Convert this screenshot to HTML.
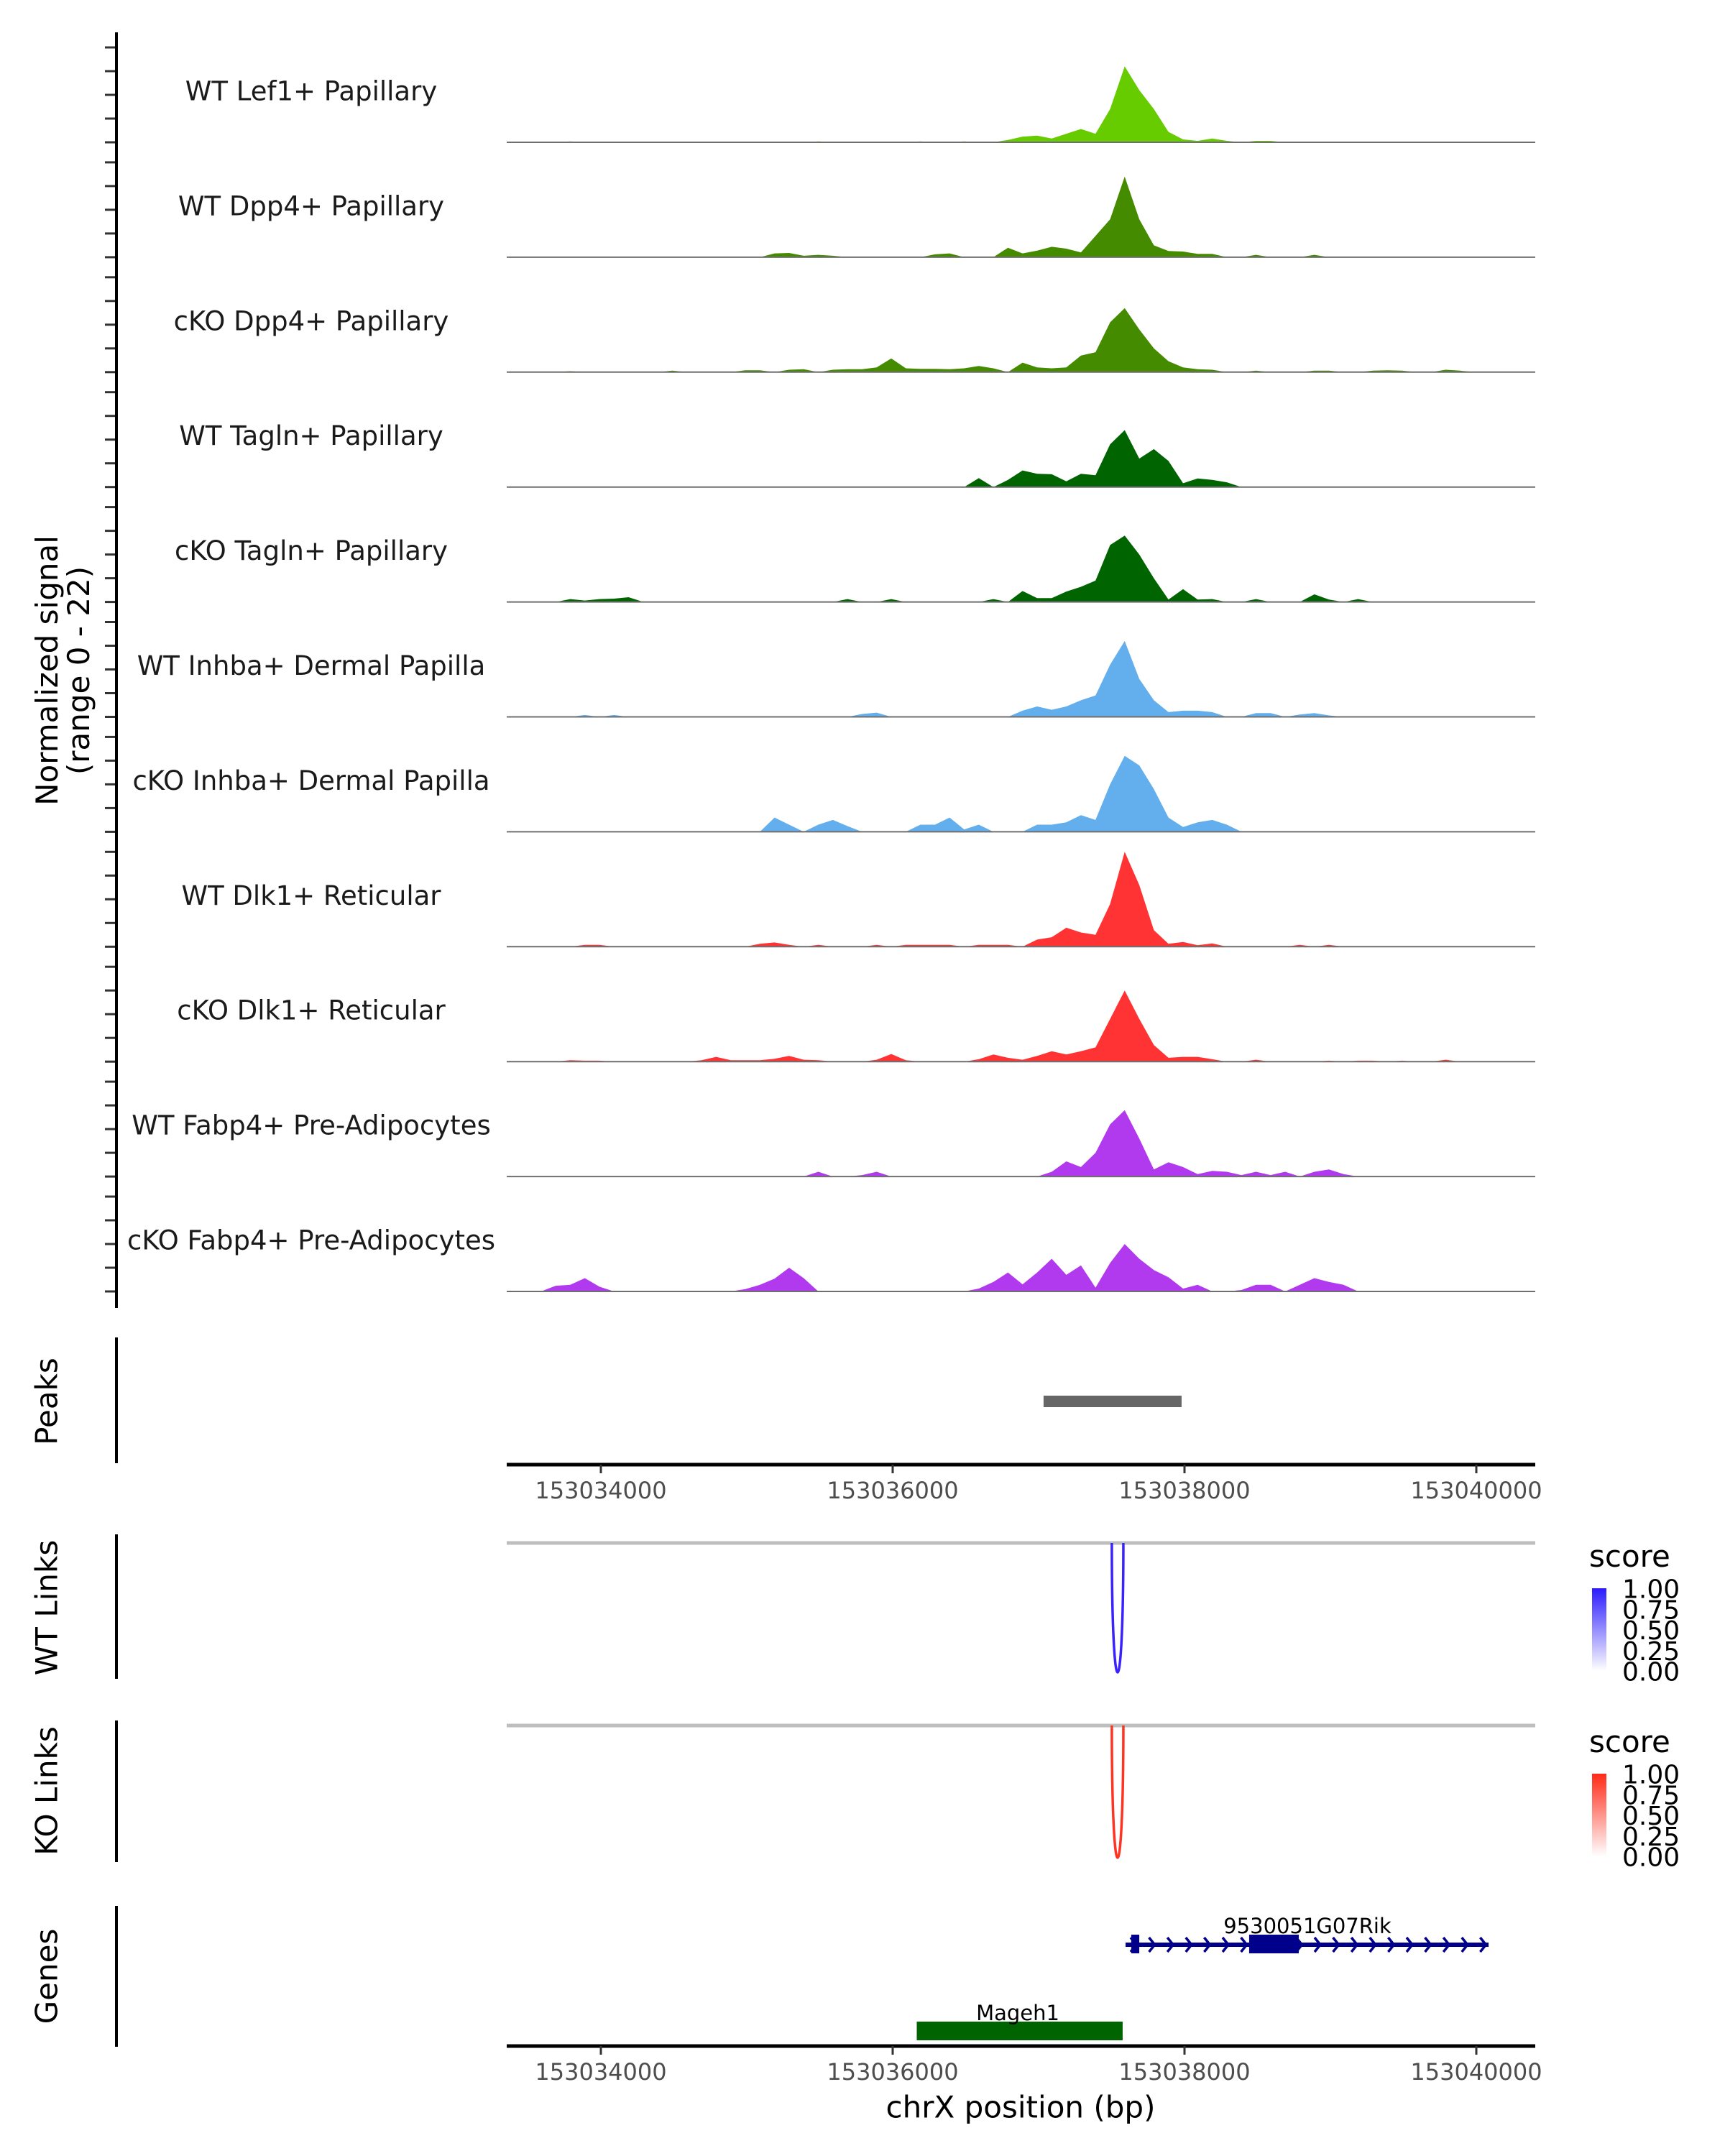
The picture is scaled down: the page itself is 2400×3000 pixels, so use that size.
<!DOCTYPE html>
<html><head><meta charset="utf-8">
<style>
html,body{margin:0;padding:0;background:#fff;}
svg{display:block;font-family:"DejaVu Sans","Liberation Sans",sans-serif;}
</style></head>
<body>
<svg id="chart" width="2400" height="3000" viewBox="0 0 2400 3000" xmlns="http://www.w3.org/2000/svg">
<defs>
<linearGradient id="gBlue" x1="0" y1="0" x2="0" y2="1"><stop offset="0" stop-color="#2b1bff"/><stop offset="1" stop-color="#ffffff"/></linearGradient>
<linearGradient id="gRed" x1="0" y1="0" x2="0" y2="1"><stop offset="0" stop-color="#ff2a17"/><stop offset="1" stop-color="#ffffff"/></linearGradient>
</defs>
<g id="tracks"></g>
<g id="axes"></g>
</svg>
<script>
// ---- data ----
const trackNames = ["WT Lef1+ Papillary","WT Dpp4+ Papillary","cKO Dpp4+ Papillary","WT Tagln+ Papillary","cKO Tagln+ Papillary","WT Inhba+ Dermal Papilla","cKO Inhba+ Dermal Papilla","WT Dlk1+ Reticular","cKO Dlk1+ Reticular","WT Fabp4+ Pre-Adipocytes","cKO Fabp4+ Pre-Adipocytes"];
const trackColors = ["#66cc00","#458b00","#458b00","#006400","#006400","#63aeec","#63aeec","#ff3333","#ff3333","#b23aee","#b23aee"];
const binStartBp = 153033440;
const binSizeBp = 100;
const binCount = 70;
// [bin index, normalized signal]
const sigLef1WT = [[3,0.2],[20,0.2],[27,0.2],[30,0.2],[33,0.5],[34,1.2],[35,1.4],[36,0.8],[37,1.8],[38,2.8],[39,1.8],[40,7],[41,16],[42,11],[43,7],[44,2.2],[45,0.6],[46,0.3],[47,0.8],[48,0.3],[50,0.3],[51,0.3],[56,0.1],[61,0.1],[65,0.1]];
const sigDpp4WT = [[17,0.8],[18,0.9],[19,0.3],[20,0.5],[21,0.3],[28,0.6],[29,0.8],[33,2],[34,0.8],[35,1.4],[36,2.2],[37,1.8],[38,1],[39,4.5],[40,8],[41,17],[42,8],[43,2.5],[44,1.3],[45,1.2],[46,0.7],[47,0.7],[50,0.5],[54,0.5]];
const sigDpp4KO = [[3,0.2],[10,0.3],[15,0.4],[16,0.4],[18,0.5],[19,0.6],[21,0.5],[22,0.6],[23,0.6],[24,1],[25,2.9],[26,0.8],[27,0.7],[28,0.7],[29,0.6],[30,0.8],[31,1.3],[32,0.8],[34,2],[35,1],[36,0.8],[37,1],[38,3.5],[39,4.2],[40,10.5],[41,13.5],[42,9],[43,5],[44,2.3],[45,1],[46,0.6],[47,0.5],[50,0.3],[54,0.3],[55,0.3],[58,0.3],[59,0.4],[60,0.3],[63,0.5],[64,0.3]];
const sigTaglnWT = [[31,1.9],[33,1.5],[34,3.5],[35,2.8],[36,2.7],[37,1.2],[38,2.8],[39,2.5],[40,9],[41,12],[42,6],[43,8],[44,5.5],[45,0.8],[46,1.8],[47,1.5],[48,1]];
const sigTaglnKO = [[3,0.6],[4,0.3],[5,0.6],[6,0.7],[7,1],[22,0.6],[25,0.6],[32,0.6],[34,2.3],[35,0.8],[36,0.8],[37,2.2],[38,3.2],[39,4.5],[40,12],[41,14],[42,10],[43,5],[44,0.5],[45,2.7],[46,0.5],[47,0.6],[50,0.6],[54,1.6],[55,0.5],[57,0.6]];
const sigInhbaWT = [[4,0.4],[6,0.4],[23,0.6],[24,0.9],[34,1.3],[35,2.2],[36,1.5],[37,2.2],[38,3.5],[39,4.5],[40,11],[41,16],[42,8],[43,3.5],[44,1],[45,1.3],[46,1.3],[47,1],[50,0.8],[51,0.8],[53,0.5],[54,0.8],[55,0.3]];
const sigInhbaKO = [[17,3],[18,1.5],[20,1.5],[21,2.5],[22,1.2],[27,1.5],[28,1.5],[29,3],[30,0.5],[31,1.5],[35,1.5],[36,1.5],[37,2],[38,3.5],[39,2.5],[40,10],[41,16],[42,14],[43,9],[44,3],[45,1],[46,2],[47,2.5],[48,1.5]];
const sigDlk1WT = [[4,0.4],[5,0.4],[16,0.6],[17,0.9],[18,0.4],[20,0.4],[24,0.4],[26,0.4],[27,0.4],[28,0.4],[29,0.4],[31,0.4],[32,0.4],[33,0.4],[35,1.5],[36,2],[37,4],[38,3],[39,2.5],[40,9],[41,20],[42,13],[43,3.5],[44,0.6],[45,1],[46,0.3],[47,0.7],[53,0.4],[55,0.4]];
const sigDlk1KO = [[3,0.3],[4,0.2],[5,0.2],[12,0.3],[13,1],[14,0.3],[15,0.3],[16,0.3],[17,0.6],[18,1.2],[19,0.4],[20,0.3],[24,0.4],[25,1.6],[26,0.3],[31,0.5],[32,1.5],[33,0.8],[34,0.4],[35,1.2],[36,2.2],[37,1.5],[38,2.2],[39,3],[40,9],[41,15],[42,9],[43,3.5],[44,0.8],[45,1],[46,1],[47,0.5],[50,0.4],[55,0.2],[57,0.2],[58,0.2],[60,0.2],[63,0.4]];
const sigFabp4WT = [[20,1],[23,0.3],[24,1],[36,1],[37,3.2],[38,2],[39,5],[40,11],[41,14],[42,8],[43,1.5],[44,3],[45,2],[46,0.5],[47,1.2],[48,1],[49,0.3],[50,1],[51,0.3],[52,1],[54,1],[55,1.5],[56,0.5]];
const sigFabp4KO = [[2,1.2],[3,1.4],[4,2.8],[5,1],[15,0.5],[16,1.4],[17,2.7],[18,5],[19,2.8],[31,0.6],[32,2],[33,4],[34,1.5],[35,4],[36,6.9],[37,3.5],[38,5.5],[39,0.8],[40,6],[41,10],[42,6.9],[43,4.5],[44,3],[45,0.6],[46,1.4],[49,0.3],[50,1.4],[51,1.4],[53,1.4],[54,2.8],[55,2],[56,1.4]];
const trackSignals = [sigLef1WT,sigDpp4WT,sigDpp4KO,sigTaglnWT,sigTaglnKO,sigInhbaWT,sigInhbaKO,sigDlk1WT,sigDlk1KO,sigFabp4WT,sigFabp4KO];
const xTicks = [153034000,153036000,153038000,153040000];
const xTickLabels = ["153034000","153036000","153038000","153040000"];
const peakRegions = [[153037034,153037980]];
const wtLinks = [[153037502,153037581,1.0]];
const koLinks = [[153037502,153037581,1.0]];
const legendTicks = ["1.00","0.75","0.50","0.25","0.00"];
const geneRik = {name:"9530051G07Rik", start:153037596, end:153040084, exons:[[153037635,153037690],[153038443,153038783]]};
const geneMageh1 = {name:"Mageh1", start:153036165, end:153037576};

// ---- scales ----
const NS="http://www.w3.org/2000/svg";
const plotL=705, plotR=2136;
function xScale(bp){return 836 + (bp-153034000)*0.203;}
const trackTop0=198, trackStep=159.9, unitPx=6.6, yMax=22;
function yScale(v,base){return base - Math.min(v,yMax)*unitPx;}
function el(tag,attrs,parent){const e=document.createElementNS(NS,tag);for(const k in attrs)e.setAttribute(k,attrs[k]);parent.appendChild(e);return e;}
const tracksG=document.getElementById('tracks');
const axesG=document.getElementById('axes');

// ---- signal tracks ----
trackSignals.forEach((sig,t)=>{
  const base=trackTop0+trackStep*t;
  const dense=new Array(binCount).fill(0);
  sig.forEach(p=>{dense[p[0]]=p[1];});
  let pts=[[plotL,base]];
  for(let i=0;i<binCount;i++){
    const cx=xScale(binStartBp+binSizeBp*i+binSizeBp/2);
    if(cx<plotL||cx>plotR) continue;
    pts.push([cx,yScale(dense[i],base)]);
  }
  pts.push([plotR,base]);
  const area=el('polygon',{points:pts.map(p=>p[0].toFixed(1)+','+p[1].toFixed(1)).join(' '),fill:trackColors[t]},tracksG);
  
  
  const bl=el('line',{x1:plotL,x2:plotR,y1:base,y2:base,stroke:'#6f6f6f','stroke-width':2},tracksG);
  
  
  const lab=el('text',{x:433,y:base-71,'font-size':37,fill:'#1a1a1a','text-anchor':'middle','dominant-baseline':'central'},tracksG);
  lab.textContent=trackNames[t];
  
  
  for(let k=0;k<5;k++){
    const ty=base-33*k;
    const tk=el('line',{x1:146,x2:162,y1:ty,y2:ty,stroke:'#333','stroke-width':3},axesG);
    
    
  }
});
// left y axis
const yAx=el('line',{x1:162,x2:162,y1:45,y2:1820,stroke:'#000','stroke-width':4},axesG);


const yt=el('text',{transform:'translate(80,933) rotate(-90)','font-size':42,'text-anchor':'middle',fill:'#000'},axesG);


yt.innerHTML='<tspan x="0" dy="0">Normalized signal</tspan><tspan x="0" dy="44">(range 0 - 22)</tspan>';

// ---- panel axes & labels ----
function panel(name,label,y1,y2,ly){
  const a=el('line',{x1:162,x2:162,y1:y1,y2:y2,stroke:'#000','stroke-width':4},axesG);
  
  
  const t=el('text',{transform:'translate(65,'+ly+') rotate(-90)','font-size':42,'text-anchor':'middle','dominant-baseline':'central',fill:'#000'},axesG);
  t.textContent=label;
  
  
}
panel('peaks','Peaks',1861,2036,1950);
panel('wt-links','WT Links',2135,2336,2237);
panel('ko-links','KO Links',2394,2591,2492);
panel('genes','Genes',2652,2848,2750);

// peaks
peakRegions.forEach(p=>{
  const r=el('rect',{x:xScale(p[0]),y:1942,width:xScale(p[1])-xScale(p[0]),height:16,fill:'#666666'},axesG);
  
  
});

// x axes
function xAxis(y,name){
  const l=el('line',{x1:plotL,x2:plotR,y1:y,y2:y,stroke:'#000','stroke-width':5},axesG);
  
  
  xTicks.forEach((v,i)=>{
    const tk=el('line',{x1:xScale(v),x2:xScale(v),y1:y,y2:y+12,stroke:'#333','stroke-width':3},axesG);
    
    
    const tl=el('text',{x:xScale(v),y:y+36,'font-size':32,'text-anchor':'middle','dominant-baseline':'central',fill:'#4d4d4d'},axesG);
    tl.textContent=xTickLabels[i];
    
    
  });
}
xAxis(2038,'peaks-x-axis');
xAxis(2847,'genes-x-axis');
const xt=el('text',{x:1420,y:2932,'font-size':42,'text-anchor':'middle','dominant-baseline':'central',fill:'#000'},axesG);
xt.textContent='chrX position (bp)';



// links
function links(arr,lineY,bottomY,color,grad,legY,name){
  const g=el('line',{x1:plotL,x2:plotR,y1:lineY,y2:lineY,stroke:'#bebebe','stroke-width':5},axesG);
  
  
  arr.forEach(lk=>{
    const xa=xScale(lk[0]),xb=xScale(lk[1]);
    const depth=(bottomY-lineY)*lk[2];
    const cy=lineY+depth/0.75;
    const p=el('path',{d:'M'+xa+','+lineY+' C'+xa+','+cy+' '+xb+','+cy+' '+xb+','+lineY,fill:'none',stroke:color,'stroke-width':3.5},axesG);
    
    
  });
  const s=el('text',{x:2211,y:legY,'font-size':42,fill:'#000'},axesG);
  s.textContent='score';
  
  
  const barTop=legY+30, barH=115;
  const cb=el('rect',{x:2215,y:barTop,width:20,height:barH,fill:'url(#'+grad+')'},axesG);
  
  
  legendTicks.forEach((t,i)=>{
    const ty=barTop+barH*i/4;
    const tx=el('text',{x:2257,y:ty+2,'font-size':36,'dominant-baseline':'central',fill:'#000'},axesG);
    tx.textContent=t;
    
    
  });
}
links(wtLinks,2147,2327,'#3a22ff','gBlue',2180,'wt-links');
links(koLinks,2401,2585,'#ff3322','gRed',2438,'ko-links');

// genes
(function(){
  const y=2706;
  const l=el('line',{x1:xScale(geneRik.start),x2:xScale(geneRik.end),y1:y,y2:y,stroke:'#00008b','stroke-width':6},axesG);
  
  
  for(let x=xScale(geneRik.start)+12;x<=xScale(geneRik.end)+1;x+=25.6){
    const c=el('polyline',{points:(x-5)+','+(y-10)+' '+(x+3)+','+y+' '+(x-5)+','+(y+10),fill:'none',stroke:'#00008b','stroke-width':3.5},axesG);
    
    
  }
  geneRik.exons.forEach(e=>{
    const r=el('rect',{x:xScale(e[0]),y:2692,width:xScale(e[1])-xScale(e[0]),height:26,fill:'#00008b'},axesG);
    
    
  });
  const t=el('text',{x:1819,y:2690,'font-size':29,'text-anchor':'middle',fill:'#000'},axesG);
  t.textContent=geneRik.name;
  
  
  const m=el('rect',{x:xScale(geneMageh1.start),y:2813,width:xScale(geneMageh1.end)-xScale(geneMageh1.start),height:26,fill:'#006400'},axesG);
  
  
  const mt=el('text',{x:1416,y:2811,'font-size':29,'text-anchor':'middle',fill:'#000'},axesG);
  mt.textContent=geneMageh1.name;
  
  
})();
</script>
</body></html>
